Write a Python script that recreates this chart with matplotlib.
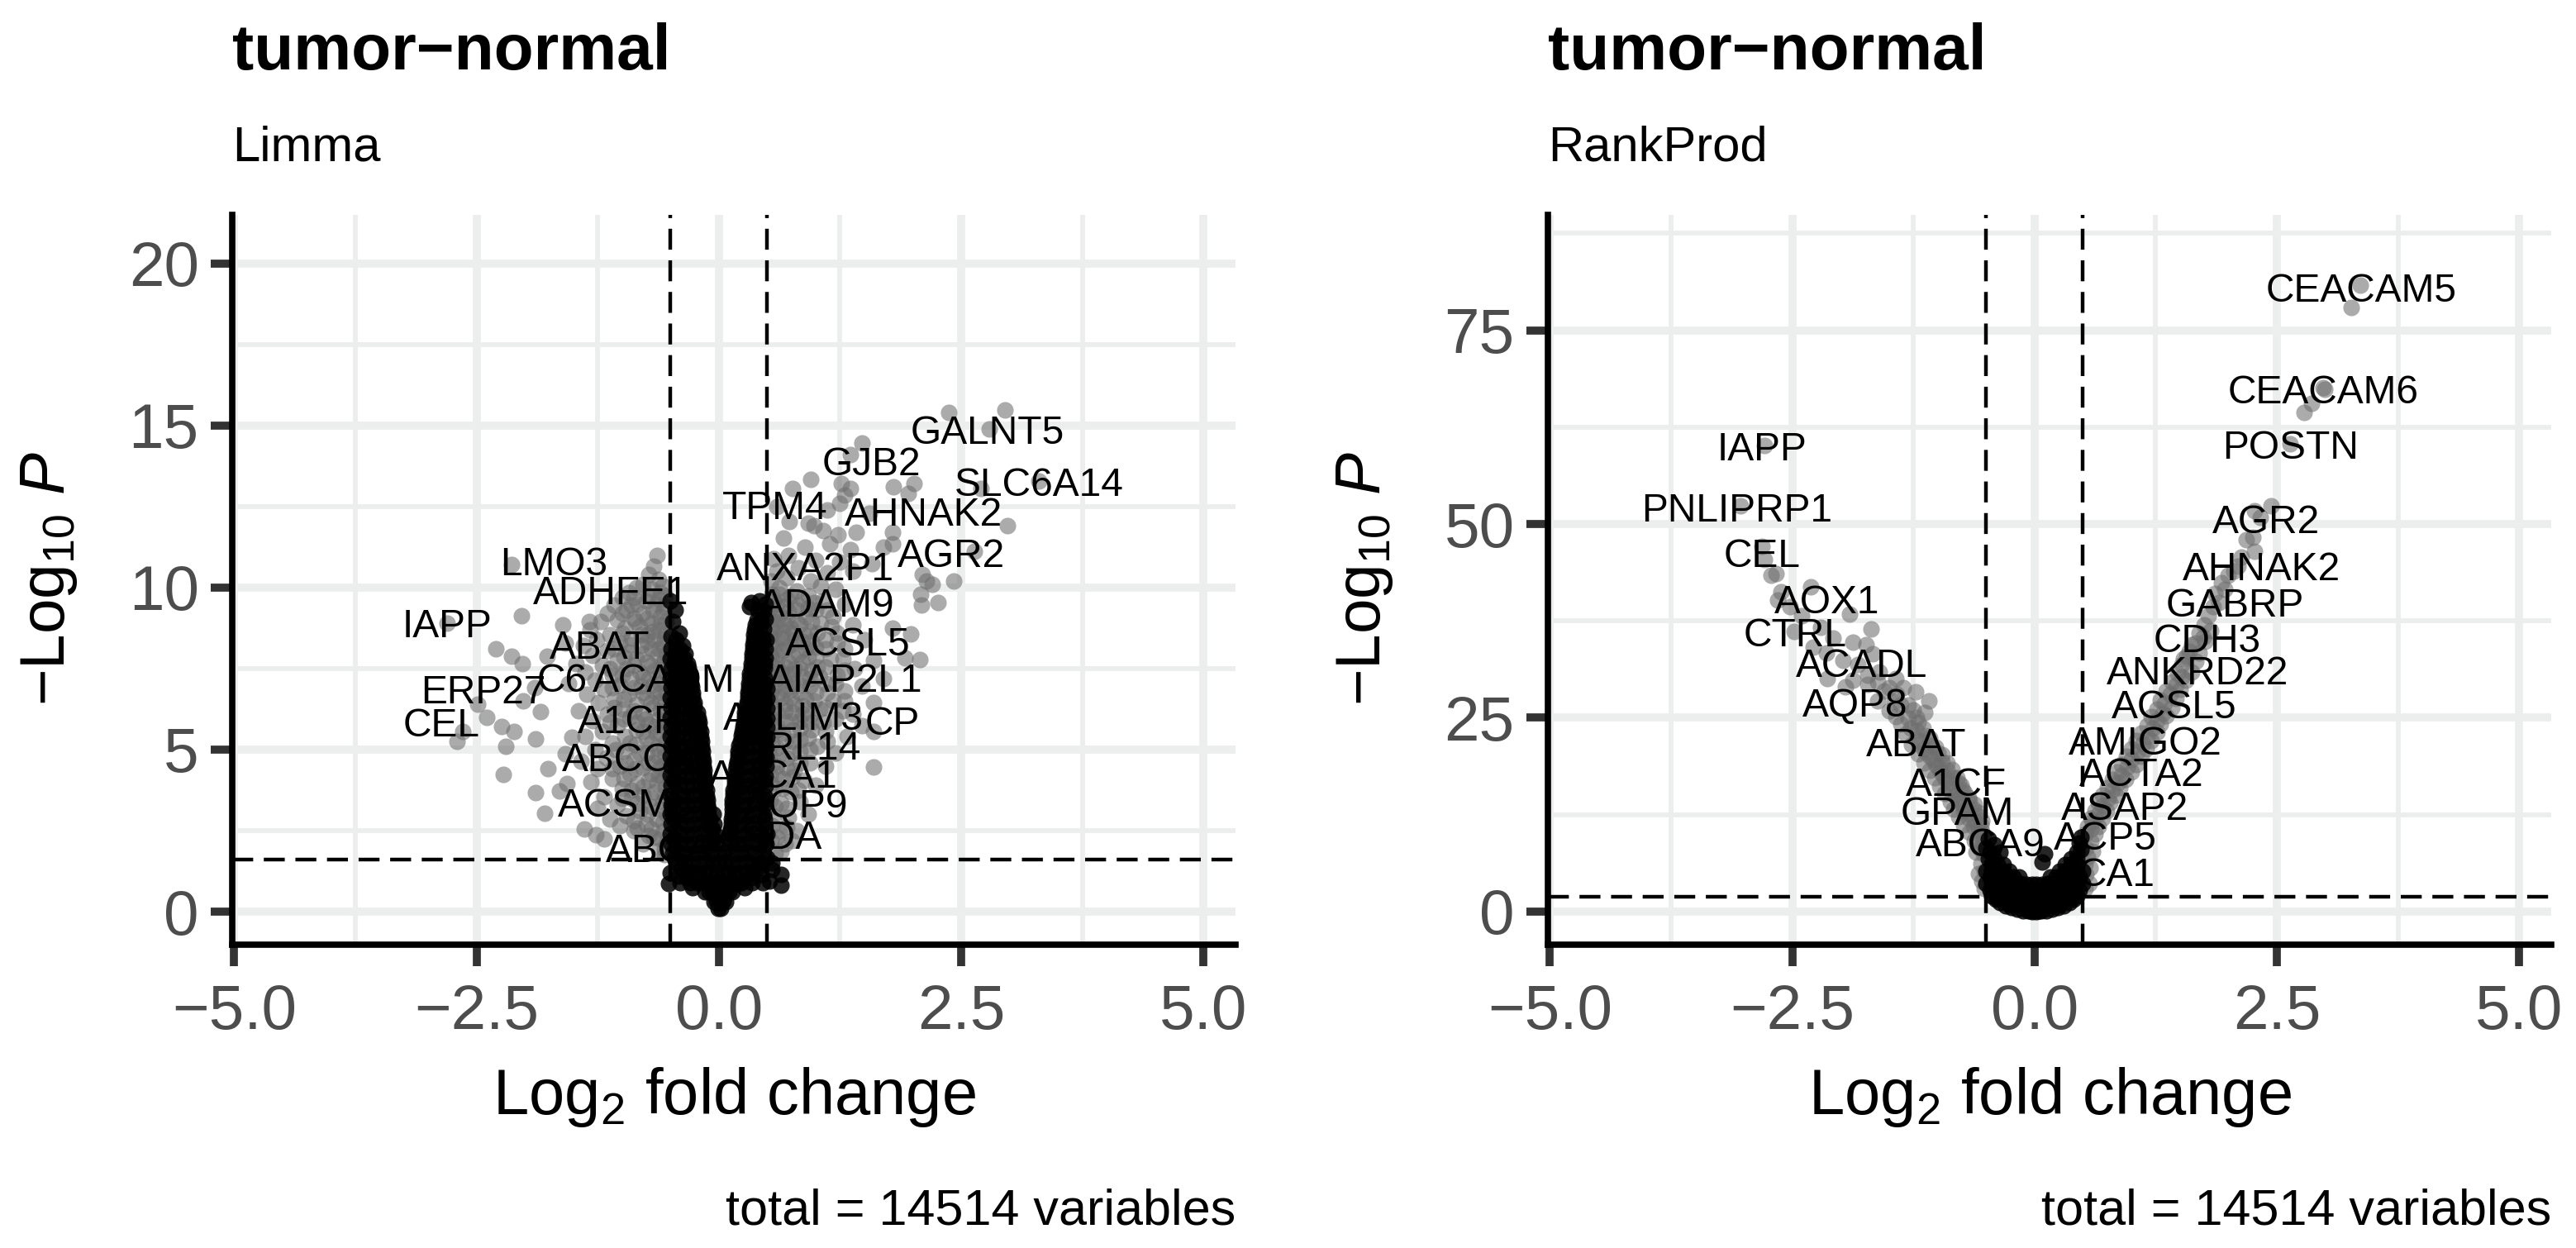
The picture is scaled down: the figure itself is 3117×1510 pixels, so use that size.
import matplotlib
matplotlib.use('Agg')
import matplotlib.pyplot as plt

plt.rcParams['font.family'] = ['Liberation Sans', 'DejaVu Sans']
plt.rcParams['mathtext.fontset'] = 'custom'
plt.rcParams['mathtext.rm'] = 'Liberation Sans'
plt.rcParams['mathtext.it'] = 'Liberation Sans:italic'
plt.rcParams['mathtext.bf'] = 'Liberation Sans:bold'

# axis ticks
x_ticks = [-5, -2.5, 0, 2.5, 5]
x_labels = ['\u22125.0', '\u22122.5', '0.0', '2.5', '5.0']
x_minor = [-3.75, -1.25, 1.25, 3.75]
limma_y_ticks = [0, 5, 10, 15, 20]
limma_y_minor = [2.5, 7.5, 12.5, 17.5]
rank_y_ticks = [0, 25, 50, 75]
rank_y_minor = [12.5, 37.5, 62.5, 87.5]

# cutoffs
fc_cut = 0.5
limma_p_cut = 1.6
rank_p_cut = 1.9

# Limma: points past both cutoffs, left side
limma_sig_left = [
    (-2.14,10.7),(-2.04,9.13),(-2.8,8.9),(-2.3,8.1),(-2.14,7.88),(-2.03,7.65),(-1.9,6.9),(-1.84,6.17),
    (-2.02,6.5),(-2.49,6.4),(-2.39,6.0),(-2.24,5.72),(-2.11,5.55),(-1.89,5.32),(-2.2,5.1),(-2.64,5.55),
    (-2.7,5.26),(-2.22,4.24),(-1.89,3.67),(-1.8,3.04),(-1.76,4.4),(-1.64,3.72),(-1.57,3.95),(-1.39,2.56),
    (-1.27,2.36),(-1.18,2.24),(-.84,2.58),(-1.02,2.64),(-1.61,8.85),(-1.34,8.96),(-1.77,7.88),(-1.58,8.28),
    (-1.52,5.38),(-1.58,4.86),
    (-.64,11.0),(-.67,10.65),(-.72,10.4),(-.62,10.25),(-.78,10.1),(-.85,10.0),(-.58,10.05),(-.69,9.95),
    (-.93,9.85),(-1.0,9.7),(-.55,9.75),(-.62,9.65),(-.75,9.6),(-.84,9.5),(-1.08,9.45),(-.56,9.4),
    (-.68,9.3),(-.95,9.3),(-.78,9.2),(-1.15,9.2),(-.6,9.1),(-.88,9.05),(-1.05,9.0),(-.54,8.95),
    (-.7,8.9),(-1.22,8.95),(-.82,8.8),(-.97,8.75),(-.62,8.7),(-1.33,8.7),(-.55,8.6),(-.74,8.55),
    (-1.12,8.55),(-.9,8.45),(-.66,8.4),(-1.26,8.4),(-1.02,8.3),(-.58,8.25),(-.8,8.2),(-1.4,8.2),
    (-.7,8.1),(-1.15,8.05),(-.93,8.0),(-.54,7.95),(-.63,7.9),(-1.3,7.9),(-.85,7.8),(-1.05,7.75),
    (-.74,7.7),(-.58,7.65),(-1.47,7.65),(-1.2,7.6),(-.95,7.5),(-.66,7.45),(-.82,7.4),(-1.38,7.4),
    (-.54,7.35),(-1.1,7.3),(-.72,7.2),(-.9,7.2),(-1.28,7.15),(-.6,7.05),(-1.02,7.0),(-1.55,7.05),
    (-.8,6.95),(-1.18,6.85),(-.67,6.8),(-.54,6.75),(-.93,6.7),(-1.36,6.7),(-.75,6.6),(-1.08,6.55),
    (-.6,6.5),(-1.24,6.45),(-.85,6.4),(-.68,6.3),(-1.0,6.25),(-.54,6.2),(-.78,6.1),(-1.15,6.1),
    (-1.45,6.2),(-.92,6.0),(-.62,5.95),(-1.3,5.9),(-.72,5.8),(-1.05,5.75),(-.55,5.7),(-.85,5.6),
    (-1.2,5.55),(-.65,5.5),(-.97,5.4),(-.75,5.35),(-1.38,5.4),(-.54,5.25),(-1.1,5.2),(-.86,5.15),
    (-.64,5.05),(-1.28,5.0),(-.98,4.95),(-.74,4.9),(-.56,4.8),(-1.16,4.75),(-.88,4.7),(-1.42,4.65),
    (-.66,4.6),(-1.02,4.5),(-.78,4.45),(-.54,4.35),(-1.25,4.4),(-.92,4.25),(-.62,4.2),(-1.1,4.1),
    (-.72,4.05),(-.84,3.95),(-1.32,4.0),(-.55,3.85),(-1.0,3.8),(-.66,3.7),(-.78,3.6),(-1.18,3.55),
    (-.9,3.5),(-.58,3.4),(-1.05,3.3),(-.7,3.25),(-.82,3.1),(-1.25,3.2),(-.54,3.0),(-.95,2.95),
    (-.64,2.85),(-1.12,2.85),(-.75,2.7),(-.57,2.5),(-.88,2.5),(-.67,2.3),(-.54,2.1),(-.78,2.1),
    (-.62,1.9),(-.56,1.75),
    (-.6,9.85),(-.72,9.75),(-.88,9.7),(-.65,9.5),(-.9,9.45),(-.58,9.25),(-.74,9.05),(-1.0,9.2),
    (-.6,8.85),(-.86,8.95),(-.68,8.65),(-.8,8.55),(-1.0,8.6),(-.56,8.4),(-.74,8.35),(-.92,8.25),
    (-1.08,8.1),(-.62,8.1),(-.78,7.95),(-.98,7.85),(-.56,7.8),(-.7,7.6),(-.88,7.6),(-1.12,7.5),
    (-.6,7.45),(-.78,7.25),(-1.0,7.3),(-.56,7.1),(-.68,7.0),(-.88,6.9),(-1.1,6.9),(-.6,6.75),
    (-.78,6.75),(-.98,6.55),(-.55,6.45),(-.7,6.45),(-.88,6.2),(-1.08,6.3),(-.6,6.2),(-.76,5.95),
    (-.98,5.95),(-.56,5.9),(-.66,5.72),(-.84,5.85),(-1.12,5.85),(-.6,5.5),(-.78,5.55),(-.92,5.2),
    (-.57,5.05),(-.7,5.2),(-1.06,5.0),(-.82,4.9),(-.63,4.8),(-.96,4.6),(-.56,4.55),(-.72,4.6),
    (-.86,4.4),(-1.1,4.4),(-.6,4.45),(-.7,4.25),(-.98,4.1),(-.57,4.1),(-.78,3.85),(-.64,3.95),
    (-.9,3.75),(-.56,3.6),(-.7,3.5),(-.84,3.35),(-1.0,3.5),(-.6,3.15),(-.74,3.0),(-.88,2.8),
    (-.58,2.75),(-.7,2.55),(-.6,2.25),(-.72,2.35),(-.56,1.95),
]
# Limma: right side
limma_sig_right = [
    (2.95,15.48),(2.37,15.4),(2.79,14.9),(1.48,14.45),(1.36,14.1),(.95,13.35),(1.26,13.2),(2.01,13.2),
    (1.8,13.1),(.76,13.05),(1.36,13.05),(1.95,12.9),(2.7,13.06),(3.3,13.3),(2.98,11.9),(2.42,10.2),
    (2.14,10.2),(2.1,10.4),(2.2,10.1),(2.08,9.8),(2.26,9.53),(2.09,9.47),(2.64,11.13),(1.7,11.24),
    (1.79,11.35),(1.79,11.7),(1.42,11.7),(1.23,11.64),(1.14,11.35),(.98,11.92),(1.08,11.75),(.73,12.04),
    (.92,11.98),(.67,11.53),(.89,11.24),(1.36,11.18),(1.58,10.73),(1.79,8.74),(1.98,8.56),(2.07,7.77),
    (1.92,7.82),(1.6,5.55),(1.6,4.46),(1.25,12.6),(1.55,12.3),(1.12,12.4),(.6,12.5),(1.3,12.85),
    (.72,11.0),(.56,10.9),(1.0,10.85),(1.25,10.8),(.82,10.6),(.6,10.5),(1.12,10.45),(1.38,10.5),
    (.7,10.3),(.54,10.2),(.95,10.2),(1.05,10.05),(.62,10.0),(.8,9.9),(1.2,9.95),(.55,9.8),
    (.92,9.75),(.7,9.65),(1.08,9.6),(.6,9.5),(.82,9.45),(1.3,9.5),(.53,9.35),(1.0,9.3),
    (.72,9.25),(.62,9.15),(.9,9.1),(1.18,9.1),(.54,9.0),(.8,8.95),(1.05,8.9),(.68,8.85),
    (1.38,8.85),(.58,8.7),(.94,8.65),(.76,8.6),(1.22,8.6),(.53,8.5),(.65,8.45),(1.1,8.4),
    (.86,8.35),(.74,8.25),(1.5,8.4),(.58,8.2),(1.0,8.15),(.66,8.05),(1.3,8.1),(.53,7.95),
    (.82,7.95),(.92,7.85),(1.15,7.8),(.6,7.75),(.72,7.7),(1.6,7.75),(.54,7.6),(1.02,7.55),
    (.84,7.5),(1.4,7.5),(.64,7.4),(.76,7.35),(1.22,7.3),(.55,7.25),(.94,7.2),(1.7,7.2),
    (.68,7.1),(1.1,7.05),(.84,7.0),(.58,6.95),(1.48,6.95),(.74,6.85),(1.3,6.8),(1.0,6.75),
    (.53,6.7),(.64,6.6),(.9,6.55),(1.18,6.5),(.78,6.4),(1.6,6.45),(.56,6.3),(1.04,6.25),
    (.68,6.2),(.86,6.1),(1.38,6.1),(.53,6.0),(1.2,5.95),(.74,5.9),(.96,5.85),(.6,5.75),
    (1.48,5.75),(.84,5.65),(1.1,5.55),(.66,5.5),(.54,5.4),(.92,5.35),(1.32,5.4),(.76,5.25),
    (1.02,5.1),(.6,5.05),(.84,4.95),(1.2,4.9),(.53,4.8),(.7,4.75),(.94,4.6),(.6,4.5),
    (1.1,4.5),(.78,4.35),(.53,4.2),(.66,4.1),(.88,4.05),(1.0,3.9),(.58,3.8),(.74,3.7),
    (.53,3.45),(.64,3.35),(.84,3.4),(.92,3.0),(.56,2.95),(.72,2.9),(.62,2.5),(.8,2.5),
    (.54,2.2),(.68,2.1),(.58,1.8),
    (.62,9.8),(.74,9.75),(.86,9.65),(.56,9.6),(.98,9.55),(.68,9.4),(.8,9.3),(.92,9.35),
    (.58,9.2),(.7,9.05),(1.12,9.3),(.84,8.85),(.96,8.95),(.6,8.95),(.74,8.75),(1.16,8.8),
    (.54,8.75),(.66,8.65),(.88,8.55),(1.02,8.6),(.6,8.45),(.78,8.4),(.96,8.35),(1.22,8.3),
    (.54,8.25),(.7,8.15),(.9,8.1),(1.1,8.1),(.6,7.95),(.76,7.9),(1.0,7.85),(1.28,7.8),
    (.55,7.8),(.68,7.55),(.86,7.7),(1.1,7.55),(.6,7.5),(.78,7.5),(.96,7.45),(1.3,7.45),
    (.55,7.4),(.7,7.3),(.86,7.25),(1.04,7.25),(.6,7.2),(.76,7.05),(1.2,7.05),(.94,6.95),
    (.55,6.85),(.68,6.85),(.84,6.75),(1.12,6.75),(.6,6.65),(.74,6.6),(.98,6.5),(1.3,6.5),
    (.54,6.45),(.68,6.4),(.86,6.35),(1.1,6.3),(.6,6.15),(.76,6.15),(.96,6.1),(1.28,6.2),
    (.54,5.95),(.68,5.9),(.84,5.9),(1.08,5.85),(.6,5.6),(.76,5.6),(.96,5.6),(.55,5.2),
    (.68,5.25),(.84,5.3),(1.12,5.25),(.62,4.85),(.76,4.9),(.94,5.0),(.55,4.55),(.7,4.45),
    (.84,4.6),(.6,4.25),(.76,4.15),(.54,3.95),(.66,3.8),(.82,3.75),(.58,3.25),(.7,3.2),
    (.55,2.65),(.7,2.6),(.6,2.3),(.75,2.2),(.64,1.85),
]
# Limma: points inside the cutoffs, they pile up into the black V
limma_not_sig = [
    (-.01,.1),(.02,.1),(-.05,.3),(-.02,.32),(.01,.28),(.04,.33),(.07,.3),
    (-.14,.6),(-.1,.62),(-.06,.58),(-.02,.6),(.02,.63),(.06,.58),(.1,.6),(.14,.62),
    (-.22,.9),(-.17,.92),(-.12,.88),(-.07,.9),(-.02,.93),(.03,.88),(.08,.9),(.13,.92),(.18,.88),(.23,.9),
    (-.32,1.2),(-.26,1.22),(-.2,1.18),(-.14,1.2),(-.08,1.23),(-.02,1.18),(.04,1.2),(.1,1.22),(.16,1.18),(.22,1.2),(.28,1.23),(.34,1.18),
    (-.52,.88),(.64,.82),(-.42,1.1),(.44,1.15),(-.4,.9),(.64,1.16),(.55,1.3),(-.5,1.2),(.52,.95),(.45,.9),(-.3,.9),(.34,.9),
    (-.44,1.5),(-.36,1.52),(-.28,1.48),(-.2,1.5),(-.13,1.53),(-.06,1.48),(0,1.5),(.06,1.52),(.13,1.48),(.2,1.5),(.28,1.53),(.36,1.48),(.44,1.5),(.55,1.5),
    (-.48,1.8),(-.4,1.82),(-.32,1.78),(-.24,1.8),(-.16,1.83),(-.08,1.78),(-.01,1.8),(.06,1.83),(.14,1.78),(.22,1.8),(.3,1.83),(.38,1.78),(.46,1.8),
    (-.49,2.1),(-.41,2.12),(-.33,2.08),(-.25,2.1),(-.17,2.13),(-.09,2.08),(-.02,2.1),(.1,2.12),(.18,2.08),(.26,2.1),(.34,2.13),(.42,2.08),(.49,2.1),
    (-.5,2.4),(-.42,2.42),(-.34,2.38),(-.26,2.4),(-.18,2.43),(-.1,2.38),(-.04,2.4),(.12,2.42),(.2,2.38),(.28,2.4),(.36,2.43),(.44,2.38),(.5,2.4),
    (-.49,2.7),(-.41,2.72),(-.33,2.68),(-.25,2.7),(-.17,2.73),(-.1,2.68),(-.05,2.7),(.13,2.72),(.21,2.68),(.29,2.7),(.37,2.73),(.45,2.68),
    (-.5,3.0),(-.42,3.02),(-.34,2.98),(-.26,3.0),(-.18,3.03),(-.11,2.98),(-.06,3.0),(.14,3.02),(.22,2.98),(.3,3.0),(.38,3.03),(.46,2.98),
    (-.49,3.3),(-.41,3.32),(-.33,3.28),(-.25,3.3),(-.18,3.33),(-.12,3.28),(.14,3.32),(.22,3.28),(.3,3.3),(.38,3.33),(.46,3.28),
    (-.5,3.6),(-.42,3.62),(-.34,3.58),(-.26,3.6),(-.19,3.63),(-.13,3.58),(.15,3.62),(.23,3.58),(.31,3.6),(.39,3.63),(.47,3.58),
    (-.49,3.9),(-.41,3.92),(-.33,3.88),(-.26,3.9),(-.19,3.93),(-.14,3.88),(.16,3.92),(.24,3.88),(.32,3.9),(.4,3.93),(.48,3.88),
    (-.5,4.2),(-.42,4.22),(-.34,4.18),(-.27,4.2),(-.2,4.23),(-.15,4.18),(.17,4.22),(.25,4.18),(.33,4.2),(.41,4.23),(.48,4.18),
    (-.49,4.5),(-.41,4.52),(-.34,4.48),(-.27,4.5),(-.21,4.53),(-.16,4.48),(.18,4.52),(.26,4.48),(.34,4.5),(.42,4.53),(.49,4.48),
    (-.5,4.8),(-.43,4.82),(-.36,4.78),(-.29,4.8),(-.23,4.83),(-.17,4.78),(.2,4.82),(.27,4.78),(.35,4.8),(.43,4.83),(.49,4.78),
    (-.49,5.1),(-.42,5.12),(-.35,5.08),(-.28,5.1),(-.22,5.13),(-.18,5.08),(.21,5.12),(.28,5.08),(.36,5.1),(.43,5.13),(.49,5.08),
    (-.5,5.4),(-.43,5.42),(-.36,5.38),(-.29,5.4),(-.23,5.43),(-.19,5.38),(.23,5.42),(.3,5.38),(.37,5.4),(.44,5.43),(.5,5.38),
    (-.49,5.7),(-.42,5.72),(-.35,5.68),(-.29,5.7),(-.24,5.73),(-.2,5.68),(.25,5.72),(.31,5.68),(.38,5.7),(.44,5.73),(.5,5.68),
    (-.5,6.0),(-.43,6.02),(-.36,5.98),(-.3,6.0),(-.25,6.03),(-.21,5.98),(.27,6.02),(.33,5.98),(.39,6.0),(.45,6.03),(.5,5.98),
    (-.49,6.3),(-.42,6.32),(-.36,6.28),(-.3,6.3),(-.25,6.33),(.28,6.32),(.34,6.28),(.4,6.3),(.45,6.33),(.5,6.28),
    (-.5,6.6),(-.43,6.62),(-.37,6.58),(-.32,6.6),(-.27,6.63),(.3,6.62),(.35,6.58),(.41,6.6),(.46,6.63),(.5,6.58),
    (-.49,6.9),(-.43,6.92),(-.38,6.88),(-.33,6.9),(-.28,6.93),(.31,6.92),(.36,6.88),(.41,6.9),(.46,6.93),(.5,6.88),
    (-.5,7.2),(-.44,7.22),(-.39,7.18),(-.34,7.2),(-.3,7.23),(.32,7.22),(.37,7.18),(.42,7.2),(.47,7.23),
    (-.49,7.5),(-.44,7.52),(-.39,7.48),(-.35,7.5),(-.31,7.53),(.33,7.52),(.38,7.48),(.43,7.5),(.47,7.53),
    (-.5,7.8),(-.45,7.82),(-.4,7.78),(-.36,7.8),(.34,7.82),(.39,7.78),(.44,7.8),(.48,7.82),
    (-.49,8.1),(-.44,8.12),(-.4,8.08),(-.37,8.2),(.35,8.12),(.4,8.08),(.44,8.1),(.48,8.12),
    (-.49,8.5),(-.44,8.4),(-.41,8.6),(-.48,8.95),(-.45,9.3),(-.5,9.6),(.36,8.4),(.41,8.38),(.45,8.42),(.49,8.4),
    (.37,8.7),(.42,8.68),(.46,8.72),(.39,9.0),(.44,8.98),(.48,9.02),(.32,9.4),(.4,9.3),(.46,9.28),(.33,9.55),(.42,9.6),(.48,9.5),
    # inner and outer edges of both arms
    (-.06,2.25),(-.07,2.55),(-.09,2.85),(-.11,3.15),(-.12,3.45),(-.13,3.75),(-.14,4.05),(-.15,4.35),(-.16,4.65),(-.17,4.95),
    (-.18,5.25),(-.19,5.55),(-.2,5.85),(-.22,6.15),(-.25,6.45),(-.27,6.75),(-.29,7.05),(-.3,7.35),(-.32,7.65),(-.35,7.95),
    (.11,2.25),(.12,2.55),(.13,2.85),(.14,3.15),(.14,3.45),(.15,3.75),(.16,4.05),(.17,4.35),(.19,4.65),(.2,4.95),(.22,5.25),
    (.24,5.55),(.26,5.85),(.27,6.15),(.29,6.45),(.3,6.75),(.31,7.05),(.32,7.35),(.33,7.65),(.34,7.95),(.35,8.25),(.36,8.55),(.38,8.85),
    (-.47,2.25),(-.47,2.85),(-.47,3.45),(-.47,4.05),(-.47,4.65),(-.47,5.25),(-.47,5.85),(-.47,6.45),(-.47,7.05),(-.47,7.65),
    (.47,2.25),(.47,2.85),(.47,3.45),(.47,4.05),(.47,4.65),(.47,5.25),(.47,5.85),(.47,6.45),(.47,7.05),(.47,7.65),
    (-.27,.75),(-.33,1.05),(-.38,1.35),(.27,.75),(.33,1.05),(.4,1.35),(-.46,1.65),(.5,1.65),
]
limma_labels = ['GALNT5','GJB2','SLC6A14','TPM4','AHNAK2','AGR2','LMO3','ANXA2P1','ADHFE1','ADAM9','IAPP','ABAT','ACSL5',
                'C6','ACADM','AIAP2L1','ERP27','CP','ABLIM3','CEL','A1CF','ARL14','ABCC8','ACSM3','ABCA1','AQP9','ABCA9','ASDA']
limma_label_x = [2.77,1.57,3.3,.58,2.11,2.4,-1.7,.89,-1.11,1.11,-2.8,-1.23,1.33,-1.62,-.57,1.3,-2.43,1.79,.77,-2.86,-.94,.85,-.94,-.96,.56,.79,-.5,.51]
limma_label_y = [14.87,13.9,13.25,12.54,12.33,11.07,10.8,10.66,9.9,9.54,8.88,8.22,8.32,7.2,7.2,7.2,6.85,5.89,6.04,5.84,5.94,5.13,4.75,3.35,4.24,3.33,1.96,2.37]

# RankProd: points past both cutoffs
rank_sig_left = [
    (-2.79,60.1),(-3.03,52.3),(-2.81,47.1),(-2.79,45.4),(-2.67,43.6),(-2.72,43.4),(-2.62,41.3),(-2.65,40.2),
    (-2.31,41.9),(-2.52,39.3),(-1.91,38.4),(-1.69,36.5),(-2.48,36.1),(-2.21,36.7),(-2.08,35.3),(-1.87,34.7),
    (-1.74,34.4),(-1.67,33.2),(-2.28,34.1),(-2.14,30.1),(-1.87,29.8),(-1.6,30.9),(-1.43,30.1),(-1.23,28.3),
    (-1.09,27.2),(-1.13,25.7),(-1.43,25.1),(-2.4,38.2),(-2.15,33.4),(-1.98,32.4),(-1.82,31.9),(-1.95,29.0),
    (-1.72,29.3),(-1.55,28.4),(-1.35,28.9),(-1.62,27.2),(-1.45,27.1),(-1.3,26.6),(-1.5,25.9),(-1.22,25.0),
    (-1.38,24.2),(-1.28,23.7),(-1.15,23.6),(-1.33,22.9),(-1.22,22.3),(-1.08,22.4),(-1.27,21.5),(-1.14,21.0),
    (-1.02,21.2),(-1.2,20.3),(-1.08,20.0),(-.95,20.2),(-1.14,19.2),(-1.02,19.0),(-.9,19.2),(-1.08,18.2),
    (-.97,18.0),(-.85,18.3),(-1.03,17.2),(-.92,17.0),(-.8,17.3),(-.98,16.2),(-.87,16.0),(-.76,16.3),
    (-.93,15.2),(-.82,15.0),(-.72,15.3),(-.87,14.2),(-.77,14.0),(-.67,14.3),(-.83,13.2),(-.73,13.0),
    (-.63,13.2),(-.78,12.2),(-.68,12.0),(-.59,12.3),(-.73,11.2),(-.63,11.0),(-.55,11.2),(-.67,10.2),
    (-.58,10.0),(-.53,9.5),(-.62,9.1),(-.57,8.2),(-.53,7.4),(-.6,7.6),(-.55,6.2),(-.52,5.2),(-.58,4.9),(-.54,3.9),(-.52,3.0),
    (-1.72,30.5),(-1.62,29.6),(-1.5,28.9),(-1.42,28.0),(-1.38,26.6),(-1.25,26.0),(-1.3,24.9),(-1.2,24.4),
    (-1.22,23.3),(-1.12,22.7),(-1.18,21.9),(-1.06,21.4),(-1.12,20.6),(-1.0,20.5),(-1.05,19.6),(-.95,19.3),
    (-1.0,18.6),(-.9,18.2),(-.94,17.5),(-.84,17.2),(-.88,16.6),(-.78,16.6),(-.84,15.6),(-.74,15.7),
    (-.78,14.6),(-.68,14.7),(-.74,13.7),(-.62,13.8),(-.68,12.7),(-.58,12.8),(-.62,11.7),(-.54,11.7),
    (-.58,10.6),(-.54,10.3),(-.56,9.0),(-.53,8.4),
]
rank_sig_right = [
    (3.36,80.8),(3.27,78.0),(2.98,67.6),(2.99,67.4),(2.86,65.6),(2.78,64.4),(2.64,60.4),(2.44,52.3),
    (2.27,51.7),(2.33,50.9),(2.18,48.0),(2.25,48.3),(2.27,46.5),(2.13,45.7),(2.0,43.4),(2.06,43.9),
    (1.96,41.6),(1.86,41.0),(1.79,38.2),(2.1,44.6),(1.93,42.4),(1.9,39.9),(1.84,39.3),(1.75,37.0),
    (1.82,36.2),(1.7,35.9),(1.76,34.9),(1.62,34.4),(1.7,33.4),(1.57,32.9),(1.66,32.3),(1.52,31.9),
    (1.62,30.9),(1.48,30.7),(1.56,29.8),(1.42,29.6),(1.5,28.7),(1.36,28.4),(1.46,27.5),(1.3,27.3),
    (1.42,26.3),(1.26,26.1),(1.36,25.2),(1.2,25.1),(1.3,24.2),(1.16,24.0),(1.26,23.1),(1.1,23.0),
    (1.2,22.1),(1.05,22.0),(1.15,21.0),(1.0,21.0),(1.1,20.0),(.95,20.0),(1.05,19.0),(.9,19.0),
    (1.0,18.0),(.85,18.0),(.94,17.0),(.8,17.0),(.88,16.0),(.75,16.0),(.84,15.0),(.7,15.0),
    (.78,14.0),(.66,14.0),(.74,13.0),(.62,13.0),(.7,12.0),(.58,12.0),(.66,11.0),(.55,11.0),
    (.62,10.0),(.52,10.0),(.58,9.0),(.53,8.2),(.6,7.8),(.55,7.0),(.52,6.0),(.57,5.6),(.53,4.8),(.56,3.6),(.52,3.0),
    (1.74,35.4),(1.66,34.6),(1.6,33.6),(1.54,32.6),(1.52,30.3),(1.46,29.2),(1.4,28.0),(1.34,26.8),
    (1.32,25.6),(1.26,24.6),(1.22,23.6),(1.16,22.6),(1.12,21.6),(1.06,20.6),(1.0,19.6),(.96,18.6),
    (.9,17.6),(.86,16.6),(.8,15.6),(.76,14.6),(.7,13.6),(.66,12.6),(.6,11.6),(.58,10.6),
]
# RankProd: points inside the cutoffs, the black bowl at the bottom
rank_not_sig = [
    (-.02,0),(.02,0),(-.04,.03),(.04,.03),(-.07,.05),(.07,.05),(-.12,.12),(.12,.12),(-.18,.25),(.18,.25),(-.24,.45),(.24,.45),(-.3,.7),(.3,.7),(-.36,1.1),(.36,1.1),(-.4,1.6),(.4,1.6),(-.44,2.0),(.44,2.0),
    (-.04,.9),(.04,.9),(-.1,.9),(.1,.9),(-.16,.9),(.16,.9),(-.22,.9),(.22,.9),(-.26,.9),(.26,.9),
    (-.02,1.8),(.02,1.8),(-.08,1.8),(.08,1.8),(-.14,1.8),(.14,1.8),(-.2,1.8),(.2,1.8),(-.26,1.8),(.26,1.8),(-.32,1.8),(.32,1.8),(-.38,1.8),(.38,1.8),
    (-.04,2.7),(.04,2.7),(-.1,2.7),(.1,2.7),(-.16,2.7),(.16,2.7),(-.22,2.7),(.22,2.7),(-.28,2.7),(.28,2.7),(-.34,2.7),(.34,2.7),(-.4,2.7),(.4,2.7),(-.46,2.7),(.46,2.7),
    (-.02,3.5),(.02,3.5),(-.08,3.5),(.08,3.5),(-.14,3.6),(.14,3.6),(-.2,3.6),(.2,3.6),(-.26,3.6),(.26,3.6),(-.32,3.6),(.32,3.6),(-.38,3.6),(.38,3.6),(-.44,3.6),(.44,3.6),(-.5,3.6),(.5,3.6),
    (-.16,4.4),(.16,4.4),(-.22,4.4),(.22,4.4),(-.28,4.4),(.28,4.4),(-.34,4.4),(.34,4.4),(-.4,4.4),(.4,4.4),(-.46,4.4),(.46,4.4),
    (-.26,5.2),(.26,5.2),(-.32,5.2),(.32,5.2),(-.38,5.2),(.38,5.2),(-.44,5.2),(.44,5.2),(-.5,5.2),(.5,5.2),
    (-.32,6.0),(.32,6.0),(-.38,6.0),(.38,6.0),(-.44,6.0),(.44,6.0),(.08,6.4),
    (-.42,6.8),(.38,6.8),(-.48,6.8),(.44,6.8),(-.46,7.6),(.44,7.6),(-.36,7.6),(.48,8.0),(-.5,8.2),(-.42,8.6),(.46,8.8),(-.48,9.4),(.48,9.6),(.1,7.4),
]
rank_labels = ['CEACAM5','CEACAM6','POSTN','IAPP','PNLIPRP1','AGR2','CEL','AHNAK2','AOX1','GABRP','CTRL','CDH3','ACADL','ANKRD22',
               'AQP8','ACSL5','ABAT','AMIGO2','ACTA2','A1CF','ASAP2','GPAM','ABCA9','ACP5','CA1']
rank_label_x = [3.37,2.98,2.64,-2.81,-3.07,2.39,-2.81,2.34,-2.14,2.07,-2.47,1.78,-1.78,1.68,-1.85,1.44,-1.22,1.14,1.1,-.81,.93,-.8,-.56,.73,.85]
rank_label_y = [80.5,67.4,60.2,60,52.1,50.6,46.2,44.5,40.3,39.8,36,35.2,32,31.1,26.9,26.7,21.8,22,18,16.7,13.6,12.9,8.9,9.7,5.1]


def draw_panel(ax, sig, not_sig, labels, lab_x, lab_y, p_cut, y_ticks, y_minor, y_lim, sub):
    ax.set_xlim(-5.02, 5.33)
    ax.set_ylim(*y_lim)
    ax.set_xticks(x_ticks)
    ax.set_xticklabels(x_labels)
    ax.set_xticks(x_minor, minor=True)
    ax.set_yticks(y_ticks)
    ax.set_yticks(y_minor, minor=True)
    ax.grid(True, which='major', color='#ECEEEE', linewidth=7)
    ax.grid(True, which='minor', color='#ECEEEE', linewidth=4.2)
    ax.set_axisbelow(True)
    ax.tick_params(which='minor', length=0)
    ax.tick_params(which='major', length=19, width=7, color='#333333', labelcolor='#4D4D4D', labelsize=55)
    ax.tick_params(axis='x', which='major', pad=15)
    ax.tick_params(axis='y', which='major', pad=10)
    for s in ['top', 'right']:
        ax.spines[s].set_visible(False)
    for s in ['left', 'bottom']:
        ax.spines[s].set_linewidth(5.5)
        ax.spines[s].set_color('black')
        ax.spines[s].set_zorder(6)

    sx, sy = zip(*sig)
    nx, ny = zip(*not_sig)
    ax.scatter(sx, sy, s=210, color='#6E6E6E', alpha=0.58, linewidths=0, zorder=2)
    for name, tx, ty in zip(labels, lab_x, lab_y):
        ax.annotate(name, (tx, ty), xytext=(0, -3), textcoords='offset points', fontsize=34.5,
                    color='black', ha='center', va='center', zorder=3)
    ax.scatter(nx, ny, s=210, color='black', alpha=0.85, linewidths=0, zorder=4)

    ax.axvline(-fc_cut, color='black', linewidth=3.2, linestyle=(0, (5.7, 2.9)), zorder=5)
    ax.axvline(fc_cut, color='black', linewidth=3.2, linestyle=(0, (5.7, 2.9)), zorder=5)
    ax.axhline(p_cut, color='black', linewidth=3.2, linestyle=(0, (5.7, 2.9)), zorder=5)

    ax.text(0, 1.199, 'tumor\u2212normal', transform=ax.transAxes, fontsize=56.5, fontweight='bold', va='baseline')
    ax.text(0, 1.074, sub, transform=ax.transAxes, fontsize=43, va='baseline')
    ax.text(1, -0.383, 'total = 14514 variables', transform=ax.transAxes, fontsize=44, ha='right', va='baseline')
    ax.text(0.5, -0.232, 'Log$_{2}$ fold change', transform=ax.transAxes, fontsize=56, ha='center', va='baseline')


fig = plt.figure(figsize=(31.17, 15.10), dpi=100)
ax1 = fig.add_axes([281 / 3117, 1 - 1143 / 1510, 1214 / 3117, 883 / 1510])
ax2 = fig.add_axes([1873 / 3117, 1 - 1143 / 1510, 1214 / 3117, 883 / 1510])

draw_panel(ax1, limma_sig_left + limma_sig_right, limma_not_sig, limma_labels, limma_label_x, limma_label_y,
           limma_p_cut, limma_y_ticks, limma_y_minor, (-1.02, 21.5), 'Limma')
draw_panel(ax2, rank_sig_left + rank_sig_right, rank_not_sig, rank_labels, rank_label_x, rank_label_y,
           rank_p_cut, rank_y_ticks, rank_y_minor, (-4.3, 89.9), 'RankProd')

fig.text(60 / 3117, 1 - 700 / 1510, '$-$Log$_{10}$ $\\mathit{P}$', rotation=90, fontsize=55, ha='center', va='center')
fig.text(1652 / 3117, 1 - 700 / 1510, '$-$Log$_{10}$ $\\mathit{P}$', rotation=90, fontsize=55, ha='center', va='center')

fig.savefig('out.png', dpi=100)
